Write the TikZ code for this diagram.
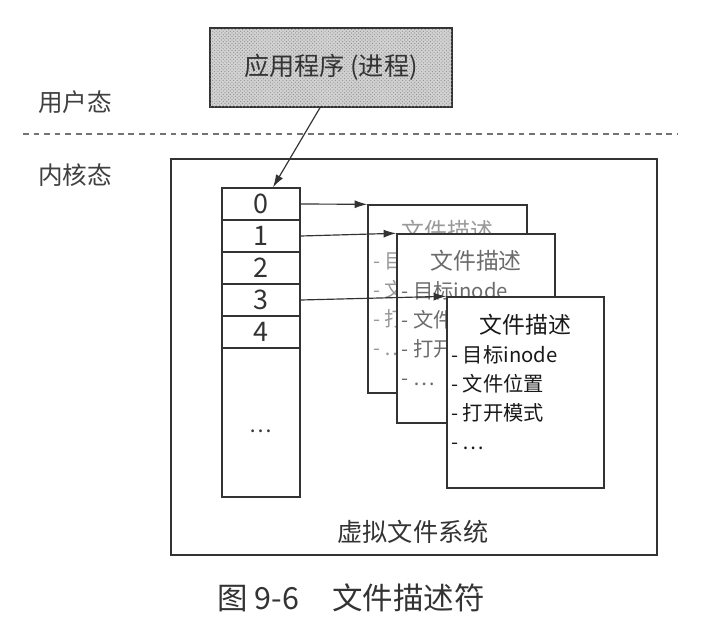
\documentclass[tikz,border=0pt]{standalone}
\usepackage{fontspec}
\setmainfont{Noto Sans CJK SC}
\usepackage{tikz}
\usetikzlibrary{positioning,arrows.meta,patterns}
\definecolor{inkgray}{HTML}{333333}
\newcommand{\fdesc}{%
  \begin{minipage}[t][5.55cm][t]{4.45cm}
    \fontsize{17.3}{24.7}\selectfont
    \vspace*{0.42cm}
    \centering{\fontsize{19.5}{24.7}\selectfont 文件描述}\par
    \raggedright
    - 目标inode\par
    - 文件位置\par
    - 打开模式\par
    - …%
  \end{minipage}}
\tikzset{
  flowarrow/.style={-{Latex[length=3.8mm, width=2.4mm]}, line width=1pt, draw=inkgray},
  sepline/.style={draw=black!55, line width=1.4pt, dash pattern=on 5pt off 4pt},
  appbox/.style={draw=inkgray, line width=1.2pt, fill=gray!35, postaction={pattern=crosshatch dots, pattern color=gray!90}, minimum width=7.26cm, minimum height=2.37cm, font=\fontsize{21.5}{26}\selectfont},
  vfsbox/.style={draw=inkgray, line width=1.2pt, minimum width=14.58cm, minimum height=11.88cm},
  fdcell/.style={draw=inkgray, line width=1.2pt, minimum width=2.34cm, minimum height=0.96cm, inner sep=0pt, font=\fontsize{23}{26}\selectfont},
  descbox/.style={draw=inkgray, fill=white, line width=1.2pt, minimum width=4.74cm, minimum height=5.67cm, inner sep=0pt},
  statelbl/.style={font=\fontsize{21}{25}\selectfont, text=black!75}
}
\begin{document}
\begin{tikzpicture}[x=0.03cm, y=-0.03cm, >=Latex, every node/.style={text=inkgray}]
  \useasboundingbox (0,0) rectangle (722,634);
  % user space / kernel space
  \node[statelbl] (userlbl) at (75,102) {用户态};
  \node[statelbl] (kernlbl) at (75,175) {内核态};
  \coordinate (sepL) at (23,134);
  \coordinate (sepR) at (677,134);
  \draw[sepline] (sepL) -- (sepR);
  \node[appbox] (app) at (331,67.5) {应用程序 (进程)};
  \node[vfsbox] (vfs) at (414,357) {};
  \node[font=\fontsize{21.5}{25}\selectfont] (vfslbl) at (413,532) {虚拟文件系统};
  % descriptor table
  \node[fdcell] (fd0) at (261,204) {0};
  \node[fdcell] (fd1) at (261,236) {1};
  \node[fdcell] (fd2) at (261,268) {2};
  \node[fdcell] (fd3) at (261,300) {3};
  \node[fdcell] (fd4) at (261,332) {4};
  \node[fdcell, minimum height=4.47cm] (fdmore) at (261,422.5) {};
  \node[font=\fontsize{18}{20}\selectfont] (fddots) at (261,431) {…};
  % open file descriptions
  \node[descbox, minimum width=4.77cm, minimum height=5.64cm, text=black!40] (descA) at (447.5,299) {\fdesc};
  \node[descbox, text=black!58] (descB) at (476,328.5) {\fdesc};
  \node[descbox, minimum width=4.71cm, minimum height=5.73cm, text=black!90] (descC) at (525.5,392.5) {\fdesc};
  \draw[flowarrow] ([xshift=-0.33cm]app.south) -- ([xshift=0.36cm]fd0.north);
  \draw[flowarrow] (fd0.east) -- (descA.north west);
  \draw[flowarrow] (fd1.east) -- (descB.north west);
  \draw[flowarrow] (fd3.east) -- (descC.north west);
  \node[font=\fontsize{26}{30}\selectfont, text=black!80] (caption) at (351,598) {图~9-6\hspace{1cm}文件描述符};
\end{tikzpicture}
\end{document}
